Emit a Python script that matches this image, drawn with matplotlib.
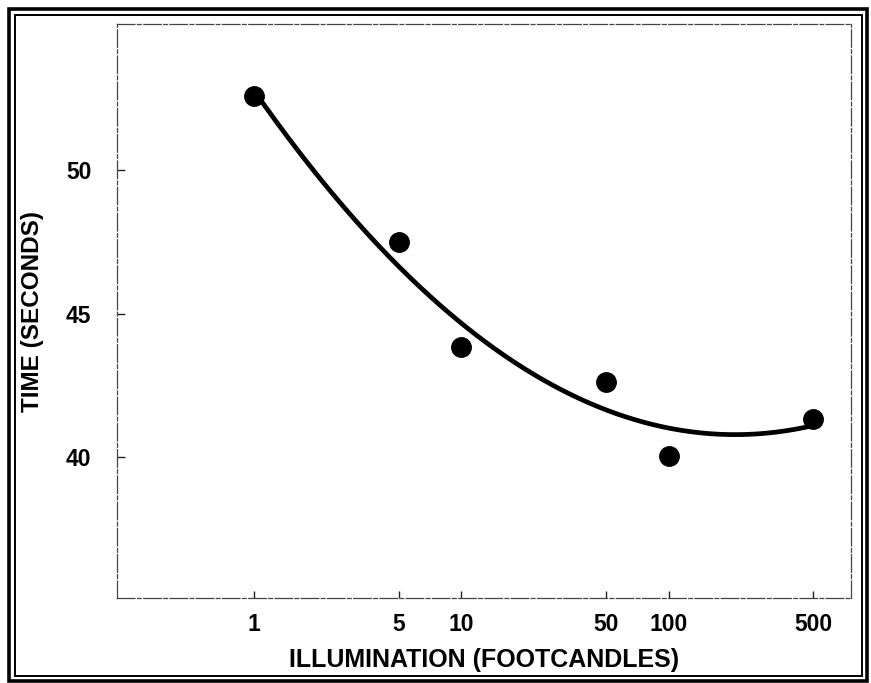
import numpy as np
import matplotlib
matplotlib.use("Agg")
import matplotlib.pyplot as plt
from matplotlib.patches import Rectangle

# ---- data ----
illumination = [1, 5, 10, 50, 100, 500]
time_seconds = [52.58, 47.49, 43.82, 42.60, 40.03, 41.32]
x_ticks = [1, 5, 10, 50, 100, 500]
x_tick_labels = ["1", "5", "10", "50", "100", "500"]
y_ticks = [40, 45, 50]
y_tick_labels = ["40", "45", "50"]

plt.rcParams['font.family'] = ['Liberation Sans', 'DejaVu Sans']

W, H = 871, 683
fig = plt.figure(figsize=(W / 100, H / 100), dpi=100)

# axes placement (pixels)
L, R, T, B = 117, 851, 24, 598
ax = fig.add_axes([L / W, 1 - B / H, (R - L) / W, (B - T) / H])

ax.set_xscale('log')
ax.set_xlim(0.2186, 759)
ax.set_ylim(35.09, 55.09)

# quadratic fit in log10(x) (the fitted curve)
lx = np.log10(illumination)
coef = np.polyfit(lx, time_seconds, 2)
xc = np.logspace(np.log10(illumination[0]), np.log10(illumination[-1]), 300)
yc = np.polyval(coef, np.log10(xc))
ax.plot(xc, yc, color='black', lw=3.4, solid_capstyle='round', zorder=3)

ax.plot(illumination, time_seconds, 'o', color='black', markersize=14, zorder=4)

ax.set_xticks(x_ticks)
ax.set_xticklabels(x_tick_labels)
ax.xaxis.set_minor_locator(matplotlib.ticker.NullLocator())
ax.set_yticks(y_ticks)
ax.set_yticklabels(y_tick_labels)

for lab in ax.get_xticklabels() + ax.get_yticklabels():
    lab.set_fontweight('bold')
    lab.set_fontsize(16.5)

ax.tick_params(axis='x', direction='in', length=5, width=1, color='#222222', pad=10.5)
ax.tick_params(axis='y', direction='in', length=6, width=1, color='#222222', pad=18.5)

for s in ax.spines.values():
    s.set_color('#444444')
    s.set_linewidth(0.9)
    s.set_linestyle((0, (14, 2, 3, 2)))

ax.set_xlabel("ILLUMINATION (FOOTCANDLES)", fontsize=18, fontweight='bold',
              va='center', ha='center')
ax.xaxis.set_label_coords(0.5, (B - 660) / (B - T))
ax.set_ylabel("TIME (SECONDS)", fontsize=17.5, fontweight='bold',
              va='center', ha='center')
ax.yaxis.set_label_coords((33 - L) / (R - L), 0.5)

# scanned page double frame
def frame(x0, y0, x1, y1, lw):
    fig.patches.append(Rectangle((x0 / W, 1 - y1 / H), (x1 - x0) / W, (y1 - y0) / H,
                                 transform=fig.transFigure, fill=False,
                                 edgecolor='black', linewidth=lw))

frame(8.5, 9, 866.5, 681, 2.6)
frame(14.5, 14.5, 861.5, 676, 1.4)

fig.savefig("out.png", dpi=100)
